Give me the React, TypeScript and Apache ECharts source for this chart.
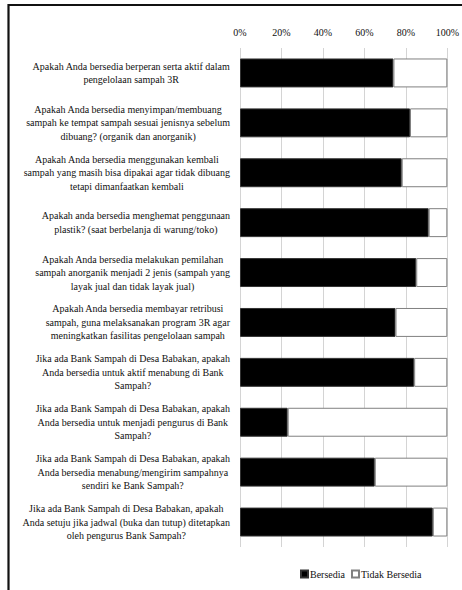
import React, { useEffect, useRef } from "react";
import * as echarts from "echarts";

const categories: string[] = [
  "Apakah Anda bersedia berperan serta aktif dalam\npengelolaan sampah 3R",
  "Apakah Anda bersedia menyimpan/membuang\nsampah ke tempat sampah sesuai jenisnya sebelum\ndibuang? (organik dan anorganik)",
  "Apakah Anda bersedia menggunakan kembali\nsampah yang masih bisa dipakai agar tidak dibuang\ntetapi dimanfaatkan kembali",
  "Apakah anda bersedia menghemat penggunaan\nplastik? (saat berbelanja di warung/toko)",
  "Apakah Anda bersedia melakukan pemilahan\nsampah anorganik menjadi 2 jenis (sampah yang\nlayak jual dan tidak layak jual)",
  "Apakah Anda bersedia membayar retribusi\nsampah, guna melaksanakan program 3R agar\nmeningkatkan fasilitas pengelolaan sampah",
  "Jika ada Bank Sampah di Desa Babakan, apakah\nAnda bersedia untuk aktif menabung di Bank\nSampah?",
  "Jika ada Bank Sampah di Desa Babakan, apakah\nAnda bersedia untuk menjadi pengurus di Bank\nSampah?",
  "Jika ada Bank Sampah di Desa Babakan, apakah\nAnda bersedia menabung/mengirim sampahnya\nsendiri ke Bank Sampah?",
  "Jika ada Bank Sampah di Desa Babakan, apakah\nAnda setuju jika jadwal (buka dan tutup) ditetapkan\noleh pengurus Bank Sampah?",
];

const bersedia: number[] = [74, 82, 78, 91, 85, 75, 84, 23, 65, 93];
const tidakBersedia: number[] = [26, 18, 22, 9, 15, 25, 16, 77, 35, 7];

const xTicks: number[] = [0, 20, 40, 60, 80, 100];

const FONT = "'Liberation Serif', 'Times New Roman', 'DejaVu Serif', serif";

export default function App() {
  const ref = useRef<HTMLDivElement>(null);

  useEffect(() => {
    if (!ref.current) return;
    const chart = echarts.init(ref.current, null, { renderer: "svg" });
    chart.setOption({
      animation: false,
      backgroundColor: "#ffffff",
      textStyle: { fontFamily: FONT, color: "#111" },
      graphic: [
        {
          type: "rect",
          shape: { x: 8.5, y: 5, width: 600, height: 800 },
          style: { fill: "none", stroke: "#111", lineWidth: 2.2 },
          silent: true,
        },
      ],
      legend: {
        data: ["Bersedia", "Tidak Bersedia"],
        top: 564,
        left: 295,
        itemWidth: 7,
        itemHeight: 7,
        itemGap: 6,
        icon: "rect",
        textStyle: { fontFamily: FONT, fontSize: 10, color: "#111", padding: [0, 0, 0, -3] },
      },
      grid: {
        left: 240,
        right: 13,
        top: 48,
        bottom: 43,
        containLabel: false,
      },
      xAxis: {
        type: "value",
        position: "top",
        min: xTicks[0],
        max: xTicks[xTicks.length - 1],
        interval: xTicks[1] - xTicks[0],
        axisLine: { show: false },
        axisTick: { show: false },
        splitLine: { show: true, lineStyle: { color: "#d4d4d4", width: 1 } },
        axisLabel: {
          formatter: "{value}%",
          fontFamily: FONT,
          fontSize: 10,
          color: "#111",
          margin: 11,
        },
      },
      yAxis: {
        type: "category",
        inverse: true,
        data: categories,
        axisLine: { show: false },
        axisTick: { show: false },
        axisLabel: {
          margin: 10,
          fontFamily: FONT,
          formatter: (v: string) =>
            v
              .split("\n")
              .map((l) => "{c|" + l + "}")
              .join("\n"),
          rich: {
            c: {
              align: "center",
              fontFamily: FONT,
              fontSize: 10,
              lineHeight: 13.5,
              color: "#111",
            },
          },
        },
      },
      series: [
        {
          name: "Bersedia",
          type: "bar",
          stack: "total",
          barWidth: "58%",
          data: bersedia,
          itemStyle: { color: "#000000", borderColor: "#333", borderWidth: 1 },
        },
        {
          name: "Tidak Bersedia",
          type: "bar",
          stack: "total",
          barWidth: "58%",
          data: tidakBersedia,
          itemStyle: { color: "#ffffff", borderColor: "#808080", borderWidth: 1 },
        },
      ],
    });
    return () => chart.dispose();
  }, []);

  return (
    <div style={{ position: "absolute", left: 0, top: 0 }}>
      <div ref={ref} style={{ width: 462, height: 590 }} />
    </div>
  );
}
